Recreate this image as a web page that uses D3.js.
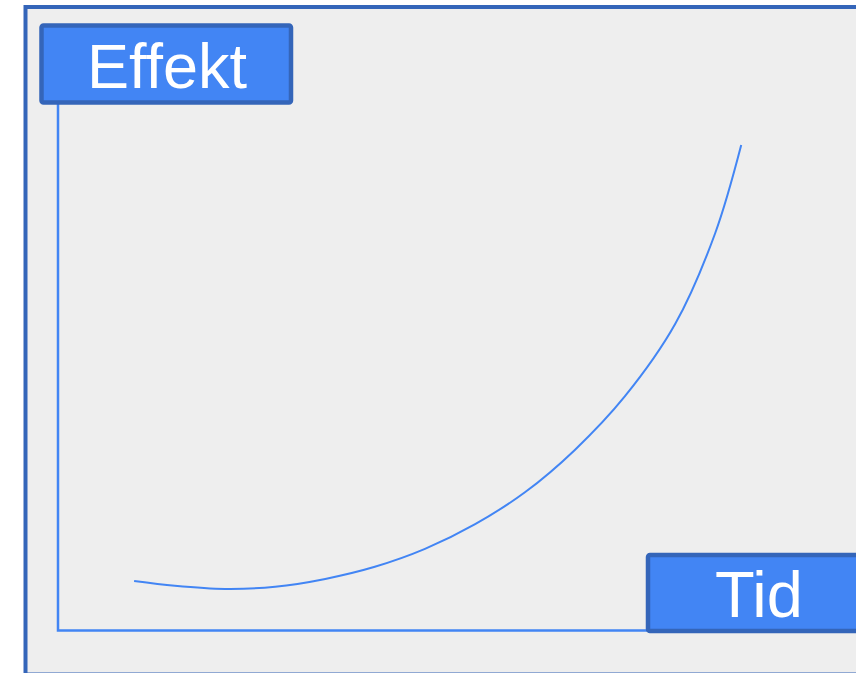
<!DOCTYPE html>
<html>
<head>
<meta charset="utf-8">
<script src="https://cdn.jsdelivr.net/npm/d3@7"></script>
<style>
  body { margin: 0; background: #fff; }
  svg { display: block; font-family: "Liberation Sans", Arial, sans-serif; }
</style>
</head>
<body>
<div id="chart"></div>
<script>
// curve, in axis units (0..10 along each axis)
var tid    = [1.29, 1.98, 2.83, 3.68, 4.53, 5.37, 6.22, 7.07, 7.92, 8.76, 9.61, 10.46, 11.14, 11.58];
var effekt = [0.94, 0.85, 0.79, 0.83, 0.98, 1.21, 1.55, 2.02, 2.63, 3.43, 4.45, 5.82, 7.55, 9.22];
var labels = ["Effekt", "Tid"];

var W = 856, H = 673;
var blue = "#4285f4", dark = "#3465b9";

var svg = d3.select("#chart").append("svg").attr("width", W).attr("height", H);

// frame
svg.append("rect")
    .attr("x", 25.5).attr("y", 7)
    .attr("width", 900).attr("height", 667.5)
    .attr("fill", "#eeeeee")
    .attr("stroke", dark).attr("stroke-width", 4);

var x = d3.scaleLinear().domain([0, 10]).range([58, 648]);
var y = d3.scaleLinear().domain([0, 10]).range([630.5, 104]);

// axes
svg.append("path")
    .attr("d", "M" + x(0) + "," + y(10) + "V" + y(0) + "H" + x(10))
    .attr("fill", "none")
    .attr("stroke", blue).attr("stroke-width", 2.5);

var line = d3.line()
    .x(function(d){ return x(d[0]); })
    .y(function(d){ return y(d[1]); })
    .curve(d3.curveCatmullRom.alpha(0.5));

svg.append("path")
    .datum(d3.zip(tid, effekt))
    .attr("d", line)
    .attr("fill", "none")
    .attr("stroke", blue).attr("stroke-width", 2);

// label boxes
var boxes = [
    {x: 41.5, y: 25.5, w: 249.5, h: 77, tx: 167, ty: 88, size: 63},
    {x: 648, y: 555, w: 300, h: 76, tx: 759, ty: 617, size: 65}
];
boxes.forEach(function(b, i){
    svg.append("rect")
        .attr("x", b.x).attr("y", b.y)
        .attr("width", b.w).attr("height", b.h)
        .attr("rx", 2)
        .attr("fill", blue)
        .attr("stroke", dark).attr("stroke-width", 4.5);
    svg.append("text")
        .attr("x", b.tx).attr("y", b.ty)
        .attr("text-anchor", "middle")
        .attr("font-size", b.size)
        .attr("fill", "#fff")
        .text(labels[i]);
});
</script>
</body>
</html>
